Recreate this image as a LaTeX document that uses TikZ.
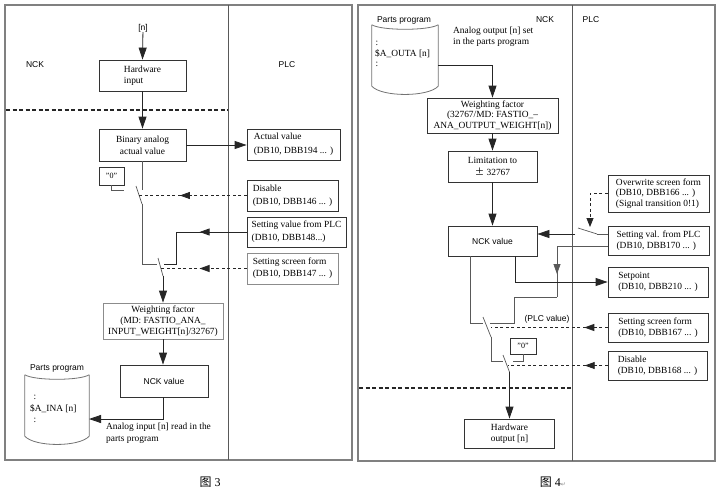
\documentclass[tikz,border=0pt]{standalone}
\usepackage{fontspec}
\setmainfont{Liberation Serif}
\setsansfont{Liberation Sans}
\newfontfamily\cjk{Noto Sans CJK SC}
\newfontfamily\dejavu{DejaVu Sans}
\usetikzlibrary{arrows.meta,decorations.markings}
\begin{document}
\begin{tikzpicture}[x=1pt,y=-1pt,
  >={Triangle[length=12pt,width=8pt]},
  box/.style={draw=black!80, line width=0.8pt, inner sep=0pt, align=left, font={\fontsize{9.4}{12}\selectfont}},
  gbox/.style={box, draw=black!45},
  cbox/.style={box, align=center},
  sk/.style={font={\fontsize{9.4}{#1}\selectfont}},
  lbl/.style={inner sep=0pt, font={\sffamily\fontsize{8.5}{10}\selectfont}},
  sbox/.style={box, font={\sffamily\fontsize{8.5}{10}\selectfont}},
  txt/.style={inner sep=0pt, align=left, font={\fontsize{9.4}{11}\selectfont}},
  wire/.style={draw=black!65, line width=0.7pt},
  arr/.style={draw=black!85, line width=0.8pt, ->},
  dsh/.style={draw=black!85, line width=0.8pt, dash pattern=on 3pt off 2.5pt},
  sep/.style={draw=black!85, line width=1.2pt, dash pattern=on 4pt off 2.5pt},
  frame/.style={draw=black!50, line width=1.5pt},
  div/.style={draw=black!65, line width=0.8pt},
  cyl/.style={draw=black!55, line width=0.8pt},
  midarr/.style={postaction={decorate}, decoration={markings, mark=at position #1 with {\arrow{Triangle[length=10pt,width=7pt]}}}},
]
\useasboundingbox[fill=white] (0,0) rectangle (720,495);

% ---------------- frames ----------------
\draw[frame] (5,5) rectangle (352,460);
\draw[frame] (358,5) rectangle (715,461);
\draw[div] (228,5) -- (228,460);
\draw[div] (572,5) -- (572,461);
\draw[sep] (6,110) -- (228,110);
\draw[sep] (359,388) -- (572,388);

% ================= LEFT (Fig. 3) =================
\node[lbl] (n) at (143,28) {[n]};
\node[lbl] (nckL) at (35,65) {NCK};
\node[lbl] (plcL) at (287,65) {PLC};

\node[box, sk=10.5, minimum width=87, minimum height=31] (hw) at (142.5,75.5) {Hardware\\input};
\node[cbox, minimum width=87, minimum height=32] (bin) at (142.5,145) {Binary analog\\actual value};
\node[box, sk=14, minimum width=93, minimum height=31] (act) at (293.5,144.5) {Actual value\\(DB10, DBB194 ... )};
\node[box, font={\fontsize{8}{9}\selectfont}, minimum width=25, minimum height=18] (z1) at (111.5,176) {"0"};
\node[box, sk=13, minimum width=91, minimum height=31] (dis1) at (292.5,195.5) {Disable\\(DB10, DBB146 ... )};
\node[box, sk=13, minimum width=99, minimum height=30] (sv1) at (296.5,232) {Setting value from PLC\\(DB10, DBB148...)};
\node[gbox, minimum width=91, minimum height=31] (ssf1) at (292.5,268.5) {Setting screen form\\(DB10, DBB147 ... )};
\node[gbox, align=center, sk=11, minimum width=120, minimum height=36] (wf1) at (163,321) {Weighting factor\\(MD: FASTIO\_ANA\_\\INPUT\_WEIGHT[n]/32767)};
\node[sbox, minimum width=88, minimum height=32] (nck1) at (164,381) {NCK value};

% cylinder (parts program, left)
\node[inner sep=0pt, minimum width=64, minimum height=61] (pp1) at (57,405.5) {};
\draw[cyl] (pp1.north west) .. controls +(10,6) and +(-10,6) .. (pp1.north east);
\draw[cyl] (pp1.north west) -- (pp1.south west) .. controls +(10,11) and +(-10,11) .. (pp1.south east) -- (pp1.north east);
\node[lbl] (pp1l) at (57,368) {Parts program};
\node[txt] (c1a) at (35,397) {:};
\node[txt, anchor=west] (c1b) at (30,409) {\$A\_INA [n]};
\node[txt] (c1c) at (35,420) {:};
\node[txt, anchor=north west, sk=11.5] (lab1) at (106,423) {Analog input [n] read in the\\parts program};

\node[inner sep=0pt, font={\fontsize{12}{14}\selectfont}] (cap3) at (210,482) {{\cjk 图}~3};

% connectors left
\draw[arr] (n) -- (hw.north);
\draw[arr] (hw.south) -- (bin.north);
\draw[arr] (bin.east) -- (bin.east -| act.west);
% switch 1
\coordinate (s1t) at (142,190);
\coordinate (s1z) at (124,190);
\coordinate (b1top) at (136,186);
\coordinate (b1piv) at (142,204);
\draw[wire] (bin.south -| s1t) -- (s1t);
\draw[wire] (z1.south) |- (s1z);
\draw[wire] (b1top) -- (b1piv);
\draw[dsh, midarr=0.62] (dis1.west) -- (139,195.5);
% switch 2
\coordinate (s2l) at (157,264);
\coordinate (s2r) at (164,264);
\coordinate (b2top) at (158,258);
\coordinate (b2piv) at (163,276);
\draw[wire] (b1piv) |- (s2l);
\draw[draw=black!85, line width=0.8pt, midarr=0.41] (sv1.west) -| (176,264) -- (s2r);
\draw[wire] (b2top) -- (b2piv);
\draw[dsh, midarr=0.55] (ssf1.west) -- (161,268.5);
\draw[arr] (b2piv) -- (b2piv |- wf1.north);
\draw[arr] (wf1.south) -- (wf1.south |- nck1.north);
\coordinate (e1) at (89,419);
\draw[arr] (nck1.south -| 163,0) |- (e1);

% ================= RIGHT (Fig. 4) =================
\node[lbl] (pp2l) at (404,20) {Parts program};
\node[lbl] (nckR) at (545,20) {NCK};
\node[lbl] (plcR) at (591,20) {PLC};

\node[inner sep=0pt, minimum width=66, minimum height=61] (pp2) at (405,55.5) {};
\draw[cyl] (pp2.north west) .. controls +(10,6) and +(-10,6) .. (pp2.north east);
\draw[cyl] (pp2.north west) -- (pp2.south west) .. controls +(10,11) and +(-10,11) .. (pp2.south east) -- (pp2.north east);
\node[txt] (c2a) at (377,43) {:};
\node[txt, anchor=west] (c2b) at (375,53.5) {\$A\_OUTA [n]};
\node[txt] (c2c) at (377,64) {:};
\node[txt, anchor=north west, sk=10.5] (aotxt) at (453,27) {Analog output [n] set\\in the parts program};

\node[cbox, sk=10.5, minimum width=131, minimum height=35] (wf2) at (492.5,115.5) {Weighting factor\\(32767/MD: FASTIO\_–\\ANA\_OUTPUT\_WEIGHT[n])};
\node[cbox, sk=12, minimum width=89, minimum height=31] (lim) at (492.5,166.5) {Limitation to\\{\cjk ±} 32767};
\node[sbox, minimum width=89, minimum height=30] (nck2) at (492.5,241) {NCK value};

\node[box, sk=10.5, minimum width=101, minimum height=37] (ow) at (658.5,193.5) {Overwrite screen form\\(DB10, DBB166 ... )\\(Signal transition 0!1)};
\node[box, sk=11, minimum width=101, minimum height=29] (sv2) at (658.5,240.5) {Setting val. from PLC\\(DB10, DBB170 ... )};
\node[box, sk=10.5, minimum width=100, minimum height=30] (sp) at (658,282) {Setpoint\\(DB10, DBB210 ... )};
\node[box, sk=11, minimum width=100, minimum height=29] (ssf2) at (658,327.5) {Setting screen form\\(DB10, DBB167 ... )};
\node[box, sk=11, minimum width=99, minimum height=29] (dis2) at (657.5,365.5) {Disable\\(DB10, DBB168 ... )};
\node[box, font={\fontsize{8}{9}\selectfont}, minimum width=26, minimum height=16] (z2) at (523,346) {"0"};
\node[cbox, sk=11, minimum width=90, minimum height=29] (hw2) at (509.5,433.5) {Hardware\\output [n]};
\node[lbl] (plcv) at (547,319) {(PLC value)};

\node[inner sep=0pt, font={\fontsize{12}{14}\selectfont}] (cap4) at (553,482) {{\cjk 图}~4{\dejavu\fontsize{6}{7}\selectfont\color{black!45}↵}};

% connectors right
\coordinate (c2out) at (438,65);
\draw[arr] (c2out) -| (wf2.north);
\draw[arr] (wf2.south) -- (lim.north);
\draw[arr] (lim.south) -- (nck2.north);
% overwrite -> switch
\coordinate (owd) at (590,227);
\draw[dsh, -{Triangle[length=9pt,width=7pt]}] (ow.west) -| (owd);
\coordinate (s5r) at (597,234);
\coordinate (b5top) at (578,228);
\coordinate (s5l) at (575,234);
\draw[wire] (sv2.west |- s5r) -- (s5r);
\draw[wire] (s5r) -- (b5top);
\draw[arr] (s5l) -- (nck2.east |- s5l);
% PLC value path
\coordinate (p1) at (557,246);
\coordinate (p2) at (557,297);
\coordinate (s3r) at (490,323);
\draw[wire] (sv2.west |- p1) -- (p1);
\draw[wire, midarr=0.55] (p1) -- (p2);
\draw[wire] (p2) -| (514,323) -- (s3r);
% NCK outputs
\coordinate (o1) at (515,256);
\coordinate (o2) at (470,256);
\coordinate (s3l) at (483,323);
\draw[arr] (nck2.south -| o1) |- (sp.west);
\draw[wire] (nck2.south -| o2) |- (s3l);
% switch 3
\coordinate (b3top) at (483,317);
\coordinate (b3piv) at (491,337);
\coordinate (s4l) at (503,361);
\coordinate (s4z) at (513,361);
\draw[wire] (b3top) -- (b3piv);
\draw[wire] (b3piv) |- (s4l);
\draw[wire] (z2.south) |- (s4z);
% switch 4
\coordinate (b4top) at (503,355);
\coordinate (b4piv) at (509.5,372);
\draw[wire] (b4top) -- (b4piv);
\draw[arr] (b4piv) -- (hw2.north);
% dashed controls
\draw[dsh, midarr=0.2] (ssf2.west) -- (491,327.5);
\draw[dsh, midarr=0.23] (dis2.west) -- (508,365.5);
\end{tikzpicture}
\end{document}
